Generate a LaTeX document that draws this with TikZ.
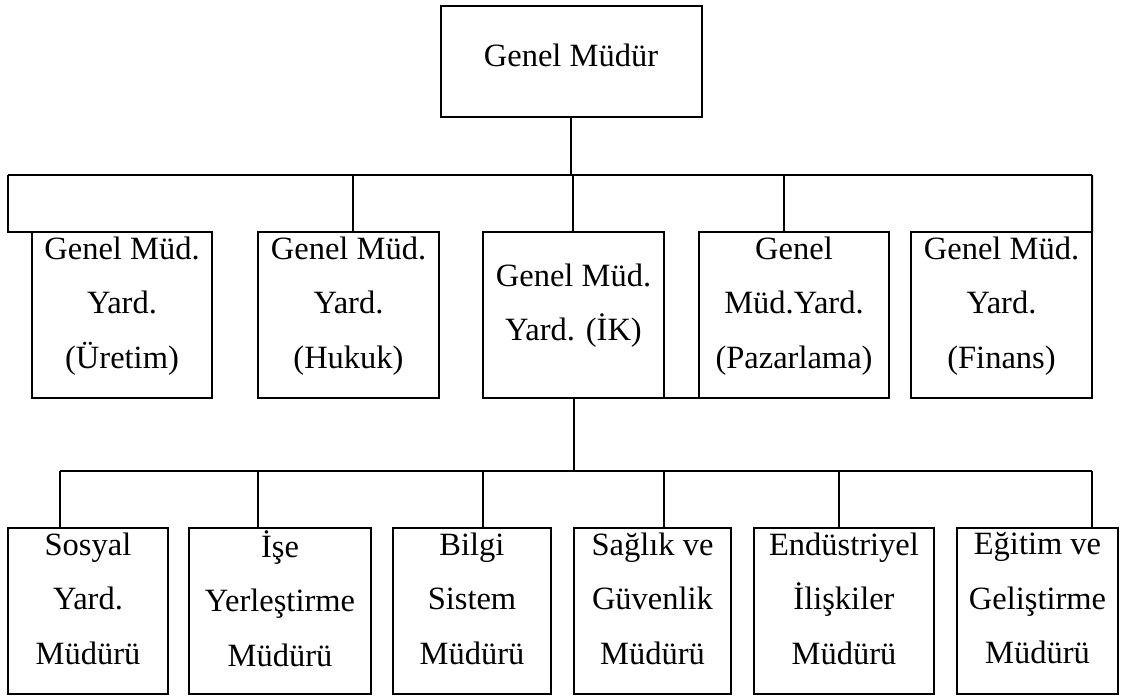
\documentclass[tikz,border=0pt]{standalone}
\usepackage{fontspec}
\setmainfont{Liberation Serif}
\usepackage{tikz}

\begin{document}
\begin{tikzpicture}[x=0.4pt, y=-0.4pt,
  unit/.style={draw, line width=0.8pt, inner sep=0pt, outer sep=0pt, align=center,
    font=\fontsize{13pt}{21.8pt}\selectfont,
    execute at begin node={\rule{0pt}{14pt}}, execute at end node={\rule[-10.2pt]{0pt}{10.2pt}}},
  deputy/.style={unit, minimum height=66.4pt},
  manager/.style={unit, minimum height=66.4pt},
  link/.style={line width=0.8pt}
]
\useasboundingbox (0,0) rectangle (1121,697);

% General Manager
\node[unit, minimum width=104.4pt, minimum height=44.4pt] (gm) at (571, 61.5) {Genel Müdür};

% Deputies
\node[deputy, minimum width=72pt] (dep1) at (122, 315) {Genel Müd.\\Yard.\\(Üretim)};
\node[deputy, minimum width=72.4pt] (dep2) at (348.5, 315) {Genel Müd.\\Yard.\\(Hukuk)};
\node[deputy, minimum width=72.4pt] (dep3) at (573.5, 315) {Genel Müd.\\Yard. (İK)};
\node[deputy, minimum width=76pt] (dep4) at (794, 315) {Genel\\Müd.Yard.\\(Pazarlama)};
\node[deputy, minimum width=72.4pt] (dep5) at (1001.5, 315) {Genel Müd.\\Yard.\\(Finans)};

% HR Managers
\node[manager, minimum width=64pt] (hr1) at (88, 611) {Sosyal\\Yard.\\Müdürü};
\node[manager, minimum width=72.8pt] (hr2) at (280, 611) {İşe\\Yerleştirme\\Müdürü};
\node[manager, minimum width=63.2pt] (hr3) at (472, 611) {Bilgi\\Sistem\\Müdürü};
\node[manager, minimum width=62.8pt] (hr4) at (652.5, 611) {Sağlık ve\\Güvenlik\\Müdürü};
\node[manager, minimum width=72pt] (hr5) at (844, 611) {Endüstriyel\\İlişkiler\\Müdürü};
\node[manager, minimum width=64.4pt] (hr6) at (1037.5, 611) {Eğitim ve\\Geliştirme\\Müdürü};

% Bus points - upper level
\coordinate (up1) at (8, 175);
\coordinate (up2) at (353, 175);
\coordinate (up3) at (573, 175);
\coordinate (up4) at (784, 175);
\coordinate (up5) at (1092, 175);

% Bus points - lower level
\coordinate (low1) at (60, 471);
\coordinate (low2) at (258, 471);
\coordinate (low3) at (483, 471);
\coordinate (low4) at (664, 471);
\coordinate (low5) at (839, 471);
\coordinate (low6) at (1092, 471);

% Connections - General Manager
\draw[link] (gm.south) -- (gm.south |- up3);
\draw[link] (up1) -- (up5);
\draw[link] (up1) |- (dep1.north west);
\draw[link] (up2) -- (up2 |- dep2.north);
\draw[link] (up3) -- (up3 |- dep3.north);
\draw[link] (up4) -- (up4 |- dep4.north);
\draw[link] (up5) -- (dep5.north east);
\draw[link] (dep3.south east) -- (dep4.south west);

% Connections - HR
\draw[link] (dep3.south) -- (dep3.south |- low1);
\draw[link] (low1) -- (low6);
\draw[link] (low1) -- (low1 |- hr1.north);
\draw[link] (low2) -- (low2 |- hr2.north);
\draw[link] (low3) -- (low3 |- hr3.north);
\draw[link] (low4) -- (low4 |- hr4.north);
\draw[link] (low5) -- (low5 |- hr5.north);
\draw[link] (low6) -- (low6 |- hr6.north);

\end{tikzpicture}
\end{document}
